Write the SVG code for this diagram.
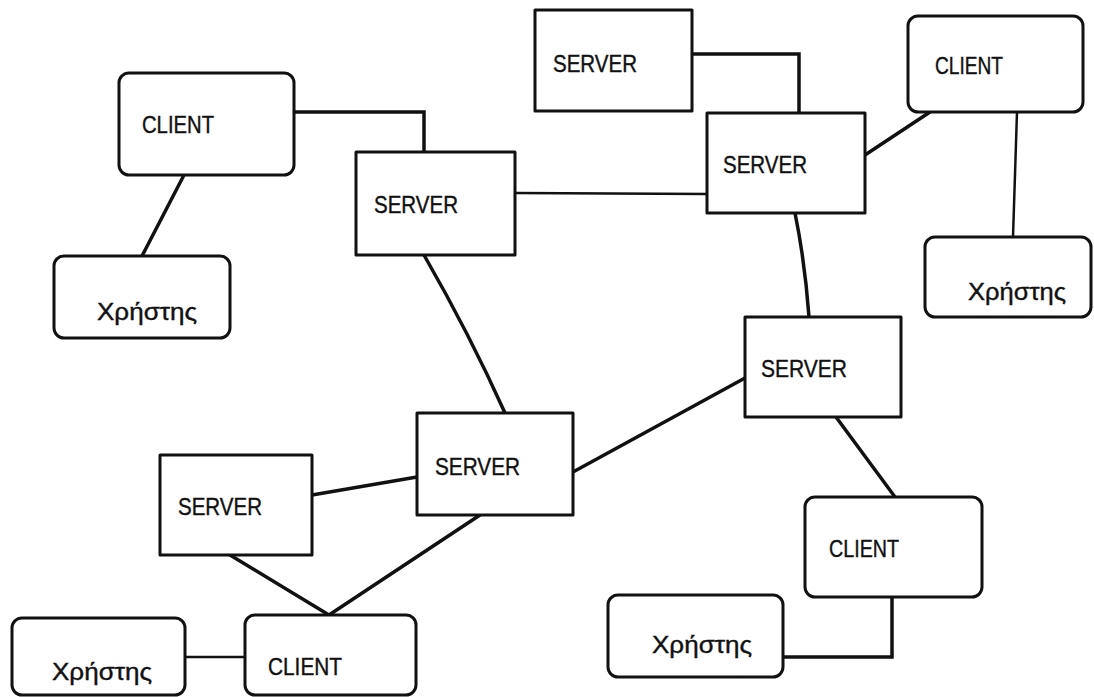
<svg xmlns="http://www.w3.org/2000/svg" width="1094" height="697" viewBox="0 0 1094 697">
<style>
.bg{fill:#ffffff}
.box{fill:#ffffff;stroke:#111;stroke-width:3;stroke-linejoin:round}
.c{fill:none;stroke:#111;stroke-width:3.5;stroke-linecap:round;stroke-linejoin:miter}
.t{fill:none;stroke:#111;stroke-width:2.5;stroke-linecap:round}
.lbl{font-family:"Liberation Sans","DejaVu Sans",sans-serif;font-size:23px;fill:#111;stroke:#111;stroke-width:0.4}
</style>
<rect class="bg" x="0" y="0" width="1094" height="697"/>
<g id="connectors">
<polyline class="c" points="294,112 424,112 424,152"/>
<line class="c" x1="184" y1="175" x2="142" y2="256"/>
<line class="t" x1="515" y1="193" x2="707" y2="194"/>
<polyline class="c" points="692,54 799,54 799,113"/>
<line class="c" x1="865" y1="155" x2="930" y2="112"/>
<line class="t" x1="1017" y1="112" x2="1013" y2="237"/>
<path class="c" d="M795,213 Q805,262 809,317"/>
<path class="c" d="M424,255 Q470,335 505,413"/>
<line class="c" x1="745" y1="378" x2="573" y2="472"/>
<line class="c" x1="836" y1="417" x2="895" y2="497"/>
<line class="c" x1="312" y1="495" x2="417" y2="477"/>
<line class="c" x1="230" y1="555" x2="329" y2="615"/>
<line class="c" x1="480" y1="515" x2="329" y2="615"/>
<line class="t" x1="185" y1="657" x2="245" y2="657"/>
<polyline class="c" points="892,597 892,657 783,657"/>
</g>
<g id="client_tl"><rect class="box" x="119" y="73" width="175" height="102" rx="10"/><text class="lbl" x="142" y="133" textLength="72" lengthAdjust="spacingAndGlyphs">CLIENT</text></g>
<g id="server_l"><rect class="box" x="356" y="152" width="159" height="103"/><text class="lbl" x="374" y="213" textLength="84" lengthAdjust="spacingAndGlyphs">SERVER</text></g>
<g id="user_l"><rect class="box" x="54" y="256" width="176" height="82" rx="10"/><text class="lbl" x="97" y="320" textLength="100" lengthAdjust="spacingAndGlyphs">Χρήστης</text></g>
<g id="server_t"><rect class="box" x="535" y="10" width="157" height="101"/><text class="lbl" x="553" y="72" textLength="84" lengthAdjust="spacingAndGlyphs">SERVER</text></g>
<g id="server_2"><rect class="box" x="707" y="113" width="158" height="100"/><text class="lbl" x="723" y="173" textLength="84" lengthAdjust="spacingAndGlyphs">SERVER</text></g>
<g id="client_tr"><rect class="box" x="908" y="16" width="175" height="96" rx="10"/><text class="lbl" x="935" y="74" textLength="68" lengthAdjust="spacingAndGlyphs">CLIENT</text></g>
<g id="user_tr"><rect class="box" x="925" y="237" width="166" height="80" rx="10"/><text class="lbl" x="968" y="300" textLength="98" lengthAdjust="spacingAndGlyphs">Χρήστης</text></g>
<g id="server_rm"><rect class="box" x="745" y="317" width="156" height="100"/><text class="lbl" x="761" y="377" textLength="86" lengthAdjust="spacingAndGlyphs">SERVER</text></g>
<g id="server_c"><rect class="box" x="417" y="413" width="156" height="102"/><text class="lbl" x="435" y="475" textLength="85" lengthAdjust="spacingAndGlyphs">SERVER</text></g>
<g id="server_bl"><rect class="box" x="160" y="455" width="152" height="100"/><text class="lbl" x="178" y="515" textLength="84" lengthAdjust="spacingAndGlyphs">SERVER</text></g>
<g id="client_bl"><rect class="box" x="245" y="615" width="171" height="80" rx="10"/><text class="lbl" x="268" y="675" textLength="74" lengthAdjust="spacingAndGlyphs">CLIENT</text></g>
<g id="user_bl"><rect class="box" x="12" y="618" width="173" height="77" rx="10"/><text class="lbl" x="52" y="680" textLength="100" lengthAdjust="spacingAndGlyphs">Χρήστης</text></g>
<g id="client_br"><rect class="box" x="805" y="497" width="177" height="100" rx="10"/><text class="lbl" x="829" y="557" textLength="70" lengthAdjust="spacingAndGlyphs">CLIENT</text></g>
<g id="user_br"><rect class="box" x="608" y="595" width="175" height="82" rx="10"/><text class="lbl" x="652" y="653" textLength="100" lengthAdjust="spacingAndGlyphs">Χρήστης</text></g>
</svg>
